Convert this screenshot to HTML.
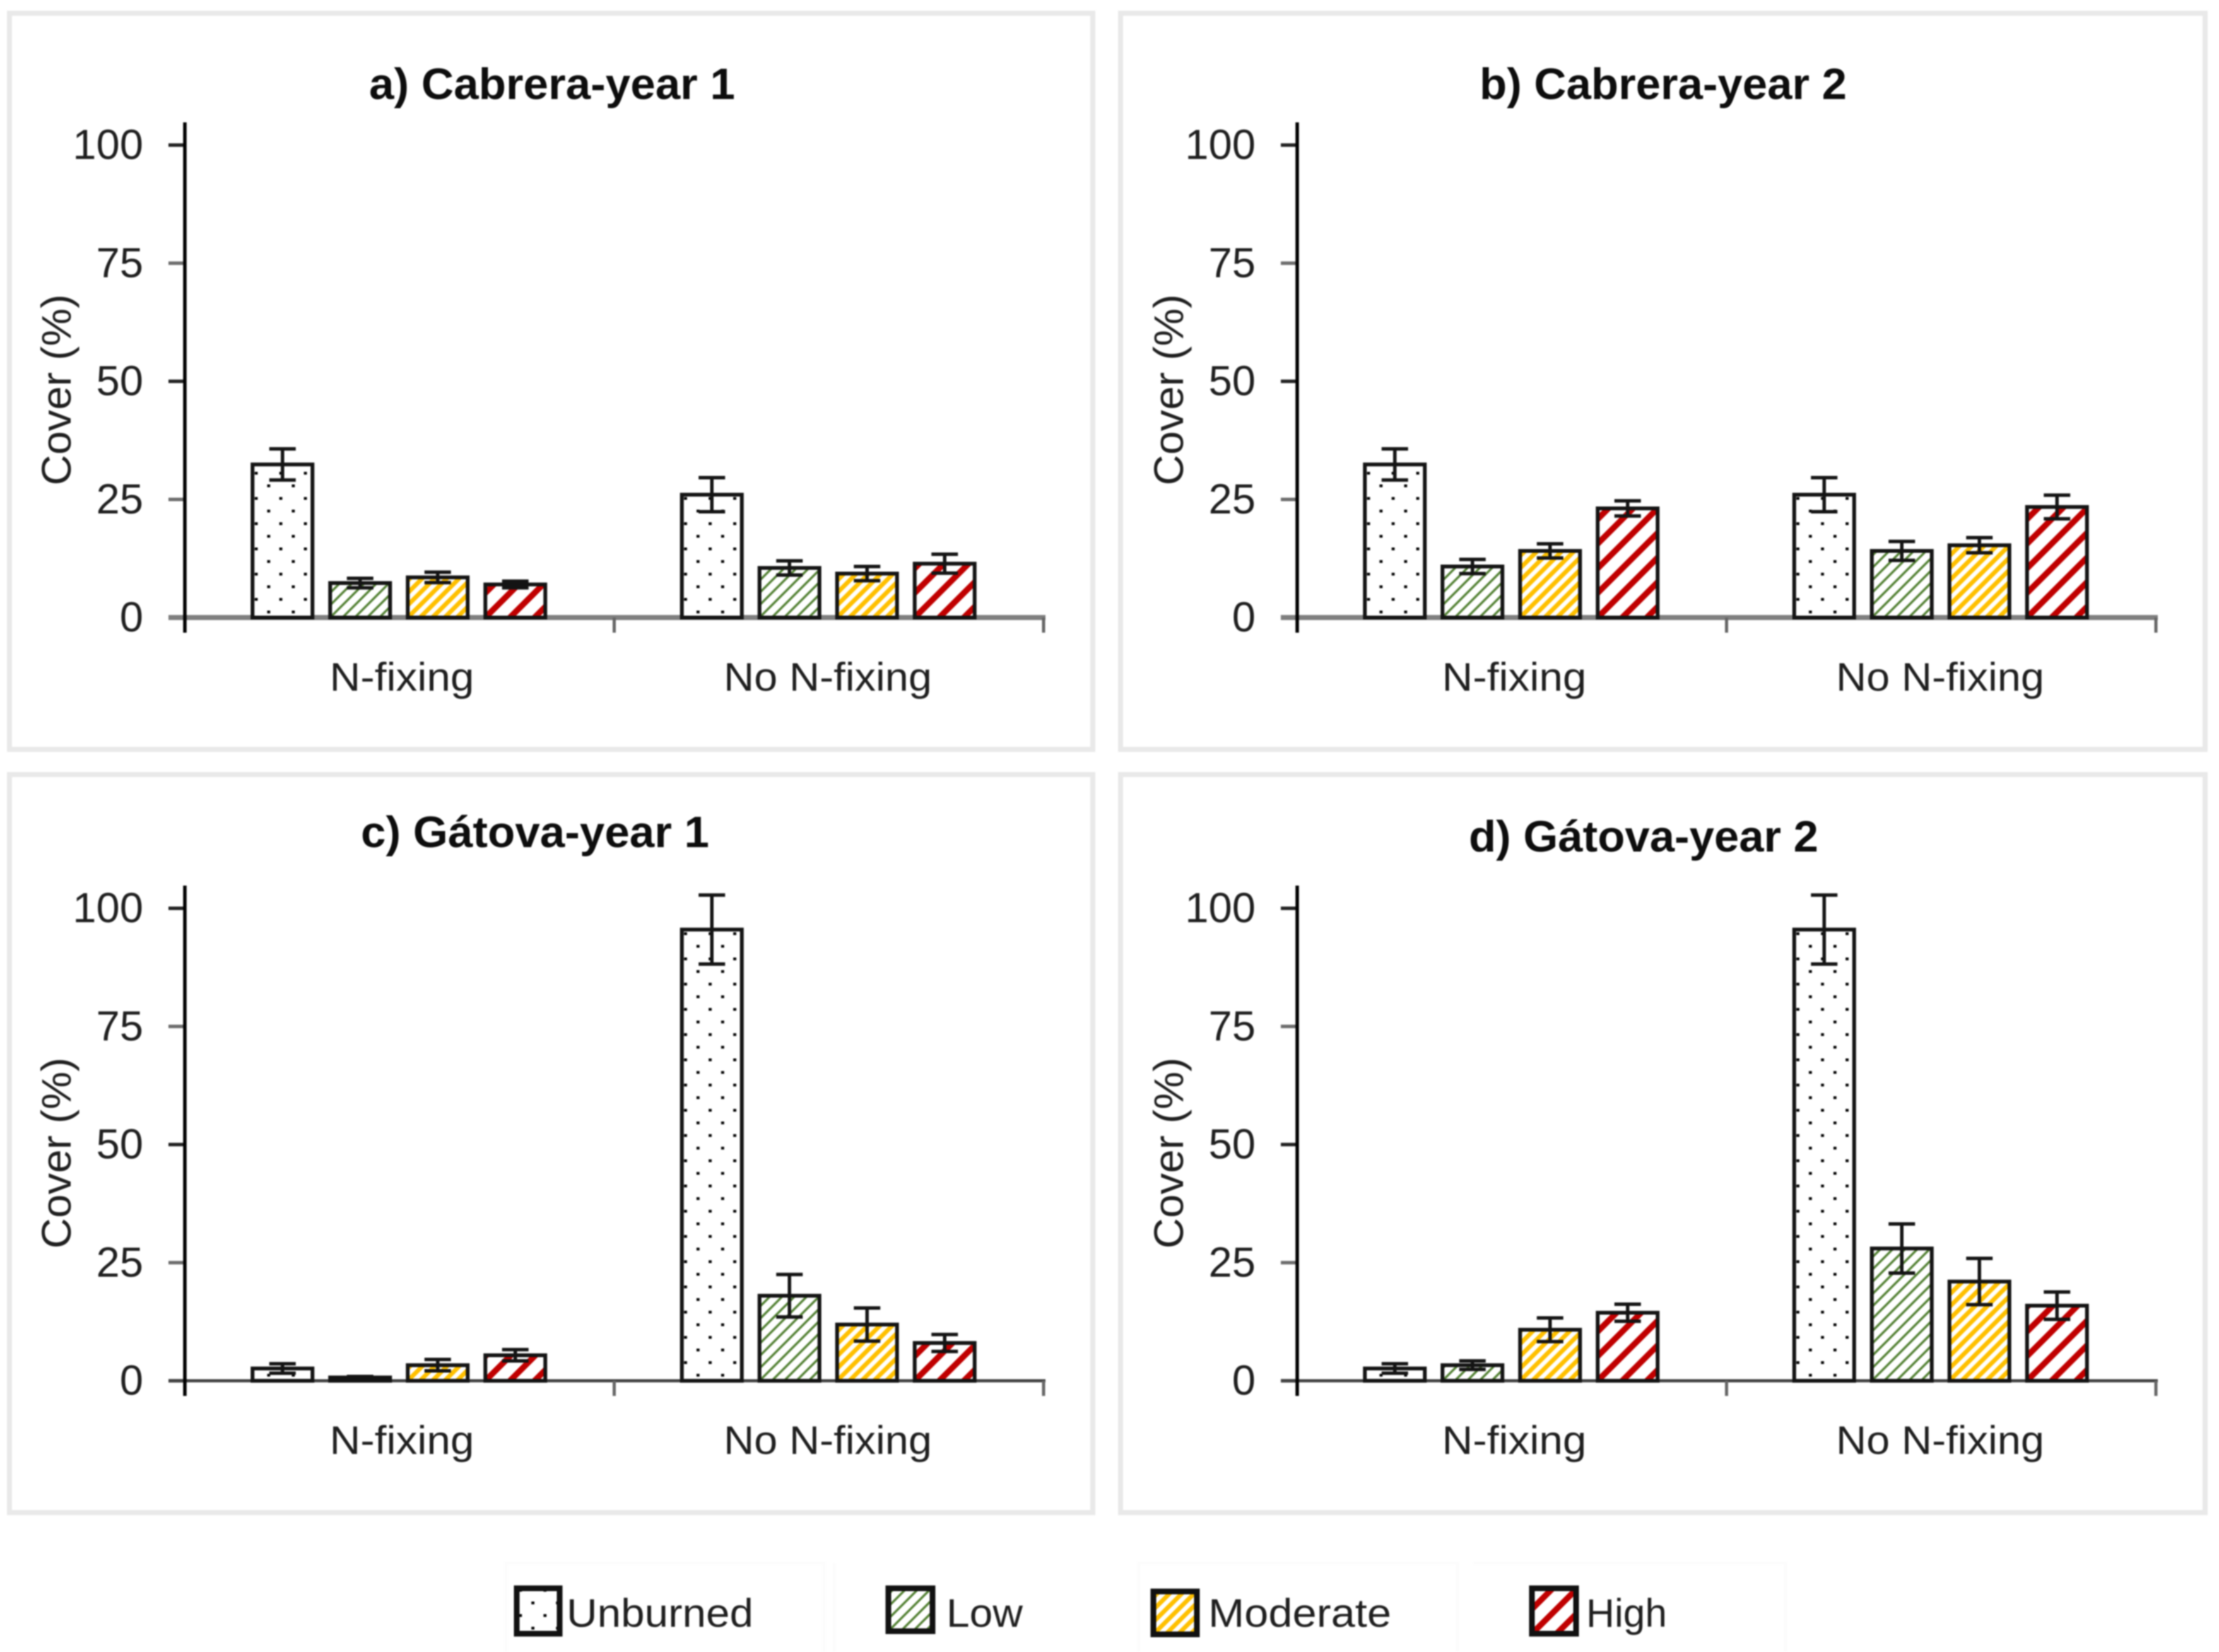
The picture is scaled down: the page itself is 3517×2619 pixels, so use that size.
<!DOCTYPE html>
<html lang="en">
<head>
<meta charset="utf-8">
<title>Cover by burn severity</title>
<style>
html,body{margin:0;padding:0;background:#fff;width:3517px;height:2619px;overflow:hidden}
svg{display:block;filter:blur(1px)}
text{font-family:"Liberation Sans",sans-serif;fill:#1f1f1f}
</style>
</head>
<body>
<svg id="chart" xmlns="http://www.w3.org/2000/svg" width="3517" height="2619" viewBox="0 0 3517 2619"></svg>
<script>
const categories = ['N-fixing', 'No N-fixing'];
const severities = ['Unburned', 'Low', 'Moderate', 'High'];
const yTickLabels = [0, 25, 50, 75, 100];
const panelTitles = ['a) Cabrera-year 1', 'b) Cabrera-year 2', 'c) Gátova-year 1', 'd) Gátova-year 2'];

const valuesA = [32.4, 7.3, 8.5, 7.0, 26.0, 10.5, 9.3, 11.4];
const errorsA = [3.3, 1.0, 1.1, 0.7, 3.6, 1.5, 1.5, 2.0];
const valuesB = [32.4, 10.8, 14.1, 23.1, 26.0, 14.1, 15.3, 23.4];
const errorsB = [3.3, 1.5, 1.5, 1.6, 3.6, 2.0, 1.6, 2.5];
const valuesC = [2.6, 0.7, 3.3, 5.4, 95.5, 18.0, 11.9, 8.0];
const errorsC = [1.0, 0.2, 1.2, 1.2, 7.3, 4.5, 3.5, 1.8];
const valuesD = [2.6, 3.3, 10.8, 14.4, 95.5, 28.0, 21.0, 15.9];
const errorsD = [1.0, 0.9, 2.5, 1.8, 7.3, 5.2, 4.9, 2.9];

const NS = 'http://www.w3.org/2000/svg';
const svg = document.getElementById('chart');
const defs = document.createElementNS(NS, 'defs');
svg.appendChild(defs);

function make(tag, attrs, parent) {
  const el = document.createElementNS(NS, tag);
  for (const k in attrs) el.setAttribute(k, attrs[k]);
  (parent || svg).appendChild(el);
  return el;
}

const hatch = {
  1: { size: 19.5, width: 3.6, color: '#548235' },
  2: { size: 19.5, width: 7, color: '#ffc000' },
  3: { size: 39, width: 9.5, color: '#c00000' }
};
let patternCount = 0;

function fillPattern(kind, ox, oy) {
  const id = 'fill-' + (patternCount++);
  if (kind === 0) {
    const p = make('pattern', { id: id, patternUnits: 'userSpaceOnUse', x: ox, y: oy, width: 39, height: 40 }, defs);
    make('rect', { x: 0, y: 0, width: 39, height: 40, fill: '#fff' }, p);
    make('rect', { x: 3.4, y: 9, width: 4.8, height: 4.4, fill: '#000' }, p);
    make('rect', { x: 23.2, y: 29, width: 4.8, height: 4.4, fill: '#000' }, p);
  } else {
    const h = hatch[kind];
    const s = h.size;
    const p = make('pattern', { id: id, patternUnits: 'userSpaceOnUse', x: ox, y: oy, width: s, height: s }, defs);
    make('rect', { x: 0, y: 0, width: s, height: s, fill: '#fff' }, p);
    make('path', {
      d: 'M-1 ' + (s + 1) + 'L' + (s + 1) + ' -1M' + (-s / 2) + ' ' + (s / 2) + 'L' + (s / 2) + ' ' + (-s / 2) + 'M' + (s / 2) + ' ' + (s * 1.5) + 'L' + (s * 1.5) + ' ' + (s / 2),
      stroke: h.color, 'stroke-width': h.width, fill: 'none'
    }, p);
  }
  return 'url(#' + id + ')';
}

function drawPanel(cfg) {
  const g = make('g', {});
  
  

  const yOf = v => cfg.y0 - v * 7.49;
  const groupW = (cfg.xEnd - cfg.x0) / 2;
  const barPitch = 123;
  const barW = 95;
  const xOf = (c, s) => cfg.x0 + groupW * (c + 0.5) - 1 + (s - 1.5) * barPitch;

  const frame = make('rect', { x: cfg.fx, y: cfg.fy, width: cfg.fw, height: cfg.fh, fill: '#fff', stroke: '#e9e9e9', 'stroke-width': 8 }, g);
  
  

  const title = make('text', { x: cfg.titleX, y: cfg.titleY, 'text-anchor': 'middle', 'font-size': 70, 'font-weight': 700, textLength: cfg.titleW, lengthAdjust: 'spacingAndGlyphs', style: 'fill:#0d0d0d' }, g);
  title.textContent = cfg.title;
  
  

  const yTitle = make('text', { transform: 'translate(' + (cfg.x0 - 181) + ' ' + (cfg.y0 - 361) + ') rotate(-90)', 'text-anchor': 'middle', 'font-size': 66, textLength: 303, lengthAdjust: 'spacingAndGlyphs' }, g);
  yTitle.textContent = 'Cover (%)';
  
  

  yTickLabels.forEach(t => {
    const y = yOf(t);
    const tick = make('line', { x1: cfg.x0 - 26, x2: cfg.x0, y1: y, y2: y, stroke: t % 50 === 0 ? '#222' : '#6e6e6e', 'stroke-width': 5.5 }, g);
    
    
    const label = make('text', { x: cfg.x0 - 66, y: y + 22, 'text-anchor': 'end', 'font-size': 67 }, g);
    label.textContent = t;
    
    
  });

  const xAxis = make('line', { x1: cfg.x0 - 26, x2: cfg.xEnd + 3, y1: cfg.y0, y2: cfg.y0, stroke: cfg.axisColor, 'stroke-width': cfg.axisWidth }, g);
  
  

  [1, 2].forEach(i => {
    const x = cfg.x0 + groupW * i;
    const tick = make('line', { x1: x, x2: x, y1: cfg.y0, y2: cfg.y0 + 24, stroke: '#666', 'stroke-width': 5 }, g);
    
    
  });

  const yAxis = make('line', { x1: cfg.x0, x2: cfg.x0, y1: cfg.y0 - 785, y2: cfg.y0 + 24, stroke: '#000', 'stroke-width': 5.5 }, g);
  
  

  categories.forEach((cat, c) => {
    severities.forEach((sev, s) => {
      const v = cfg.values[c * 4 + s];
      const e = cfg.errors[c * 4 + s];
      const cx = xOf(c, s);
      const top = yOf(v);
      const left = cx - barW / 2;
      const bar = make('rect', { x: left, y: top, width: barW, height: cfg.y0 - top, fill: fillPattern(s, left, cfg.y0), stroke: '#141414', 'stroke-width': 6 }, g);
      
      
      const hi = yOf(v + e);
      const lo = yOf(v - e);
      const err = make('path', { d: 'M' + (cx - 21) + ' ' + hi + 'H' + (cx + 21) + 'M' + (cx - 21) + ' ' + lo + 'H' + (cx + 21) + 'M' + cx + ' ' + hi + 'V' + lo, stroke: '#141414', 'stroke-width': 5.5, fill: 'none' }, g);
      
      
    });
    const label = make('text', { x: cfg.x0 + (c === 0 ? 344 : 1019), y: cfg.y0 + 116, 'text-anchor': 'middle', 'font-size': 63, textLength: c === 0 ? 229 : 330, lengthAdjust: 'spacingAndGlyphs' }, g);
    label.textContent = cat;
    
    
  });
}

drawPanel({ name: 'panel-a', title: panelTitles[0], values: valuesA, errors: errorsA, x0: 293, xEnd: 1654, y0: 979, fx: 15, fy: 21, fw: 1717, fh: 1167, titleX: 875, titleY: 157, titleW: 580, axisColor: '#7f7f7f', axisWidth: 8 });
drawPanel({ name: 'panel-b', title: panelTitles[1], values: valuesB, errors: errorsB, x0: 2056, xEnd: 3417, y0: 979, fx: 1776, fy: 21, fw: 1719, fh: 1167, titleX: 2636, titleY: 157, titleW: 582, axisColor: '#7f7f7f', axisWidth: 8 });
drawPanel({ name: 'panel-c', title: panelTitles[2], values: valuesC, errors: errorsC, x0: 293, xEnd: 1654, y0: 2189, fx: 15, fy: 1228, fw: 1717, fh: 1170, titleX: 848, titleY: 1343, titleW: 552, axisColor: '#444', axisWidth: 5 });
drawPanel({ name: 'panel-d', title: panelTitles[3], values: valuesD, errors: errorsD, x0: 2056, xEnd: 3417, y0: 2189, fx: 1776, fy: 1228, fw: 1719, fh: 1170, titleX: 2605, titleY: 1350, titleW: 554, axisColor: '#444', axisWidth: 5 });

const legendGeom = [
  { sx: 814, sw: 78, sy: 2514, sh: 80, tx: 898, tw: 296 },
  { sx: 1403, sw: 80, sy: 2514, sh: 76, tx: 1500, tw: 121 },
  { sx: 1823, sw: 79, sy: 2519, sh: 76, tx: 1915, tw: 290 },
  { sx: 2423, sw: 80, sy: 2514, sh: 80, tx: 2514, tw: 128 }
];
const legend = make('g', {});


const legendGuides = make('path', { d: 'M802 2619V2478H1306V2619M1322 2478V2619M1805 2619V2478H2310V2619M2335 2478H2830V2619', fill: 'none', stroke: '#fcfcfc', 'stroke-width': 5 }, legend);


severities.forEach((sev, i) => {
  const g = legendGeom[i];
  const swatch = make('rect', { x: g.sx + 5, y: g.sy + 4, width: g.sw - 10, height: g.sh - 8, fill: fillPattern(i, g.sx + 5, g.sy + g.sh - 4), stroke: '#111', 'stroke-width': 9 }, legend);
  
  
  const text = make('text', { x: g.tx, y: 2579, 'font-size': 63, textLength: g.tw, lengthAdjust: 'spacingAndGlyphs' }, legend);
  text.textContent = sev;
  
  
});
</script>
</body>
</html>
